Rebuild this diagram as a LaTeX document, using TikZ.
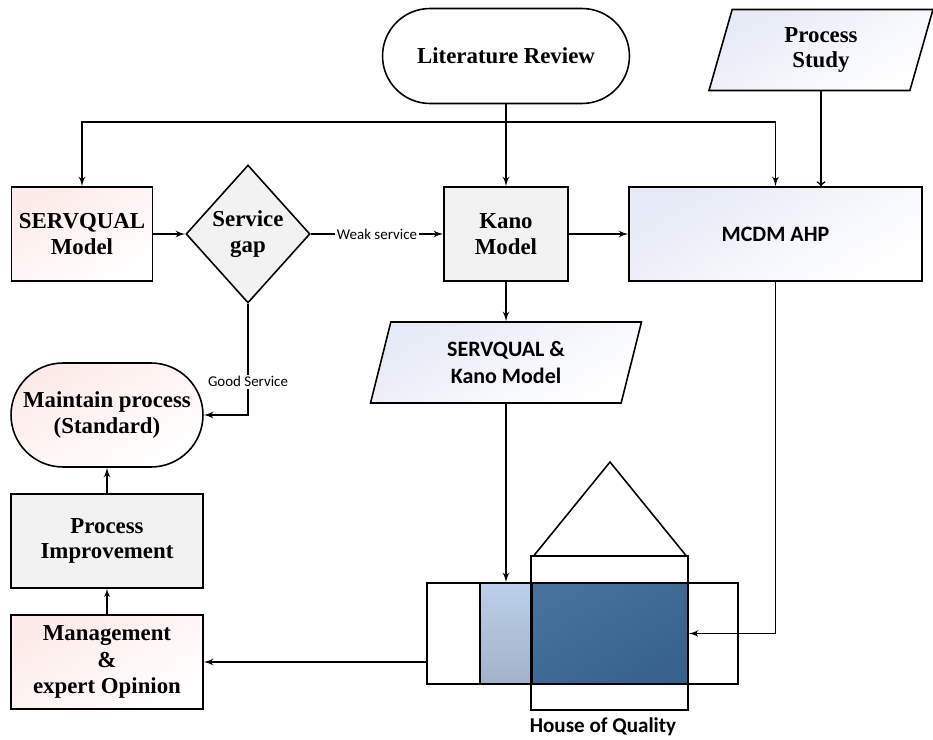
\documentclass[tikz,border=0pt]{standalone}
\usepackage{fontspec}
\setmainfont{Liberation Serif}
\newfontfamily\calibri{Carlito}
\usetikzlibrary{positioning,arrows,shapes.geometric,shapes.misc,calc}
\definecolor{pinkTop}{HTML}{FCEBE8}
\definecolor{blueTop}{HTML}{E6EAF6}
\definecolor{grayFill}{HTML}{F2F2F2}
\definecolor{hoqDarkA}{HTML}{44729D}
\definecolor{hoqDarkB}{HTML}{37628B}
\definecolor{hoqLightA}{HTML}{BCD0E9}
\definecolor{hoqLightB}{HTML}{A2B2CA}

\begin{document}
\begin{tikzpicture}[x=0.02cm,y=-0.02cm,>=latex',line width=0.9pt,
    every node/.style={font=\fontsize{13}{14.5}\selectfont\bfseries,align=center,inner sep=0pt},
    box/.style={draw,rectangle,minimum width=3.84cm,minimum height=1.88cm},
    pinkbox/.style={top color=pinkTop,bottom color=white,shading angle=30},
    graybox/.style={fill=grayFill},
    bluebox/.style={top color=blueTop,bottom color=white,shading angle=30},
    terminal/.style={draw,rounded rectangle},
    slanted/.style={draw,trapezium,trapezium left angle=63,trapezium right angle=117,trapezium stretches body},
    sanslabel/.style={font=\calibri\fontsize{8.5}{10}\selectfont,fill=white,inner sep=1pt},
    sansbold/.style={font=\calibri\fontsize{12.5}{15}\selectfont\bfseries},
    cell/.style={draw,rectangle,minimum height=2.02cm}]
    \useasboundingbox (0,0) rectangle (933,740);
    %
    \node[terminal,minimum width=4.94cm,minimum height=1.9cm] (Literature) at (506,56) {Literature Review};
    \node[slanted,bluebox,minimum width=4.48cm,minimum height=1.62cm] (Study) at (821,50) {Process\\Study};
    \node[box,pinkbox,minimum width=2.82cm] (Servqual) at (82,234) {SERVQUAL\\Model};
    \node[draw,diamond,graybox,aspect=0.9,minimum width=2.48cm,minimum height=2.76cm] (service_gap) at (248,234) {Service\\gap};
    \node[box,graybox,minimum width=2.48cm] (Kano) at (506,234) {Kano\\Model};
    \node[box,bluebox,sansbold,minimum width=5.86cm] (Mcdm) at (775.5,234) {MCDM AHP};
    \node[slanted,bluebox,sansbold,trapezium left angle=64,trapezium right angle=116,minimum width=5.42cm,minimum height=1.62cm] (Servqual_kano) at (506,362.5) {SERVQUAL \&\\Kano Model};
    \node[terminal,pinkbox,minimum width=3.84cm,minimum height=2.08cm] (Maintain) at (107,415) {Maintain process\\(Standard)};
    \node[box,graybox] (Improvement) at (107,541) {Process\\Improvement};
    \node[box,pinkbox,font=\fontsize{13}{15}\selectfont\bfseries] (Management) at (107,662) {Management\\\&\\expert Opinion};
    %
    % house of quality
    \node[cell,minimum width=1.06cm] (hoq_left) at (453.5,633.5) {};
    \node[cell,minimum width=1.04cm,top color=hoqLightA,bottom color=hoqLightB] (hoq_rows) at (506,633.5) {};
    \node[cell,minimum width=3.12cm,top color=hoqDarkA,bottom color=hoqDarkB,shading angle=30] (hoq_matrix) at (610,633.5) {};
    \node[cell,minimum width=1.0cm] (hoq_right) at (713,633.5) {};
    \node[draw,minimum width=3.14cm,minimum height=3.08cm] (hoq_body) at (609.5,633) {};
    \coordinate (roof_top) at (610,462);
    \draw ($(hoq_body.north west)+(4,0)$) -- (roof_top) -- ($(hoq_body.north east)+(-3,0)$);
    \node[sansbold,font=\calibri\fontsize{12}{14}\selectfont\bfseries] (hoq_label) at (603,727) {House of Quality};
    %
    \coordinate (split) at (506,122);
    \draw (Literature.south) -- (split);
    \draw[->] (split) -- (Kano.north);
    \draw[->] (split) -| (Servqual.north);
    \draw[->] (split) -| (Mcdm.north);
    \draw[-to] (Study.south) -- (Study.south |- Mcdm.north);
    \draw[->] (Servqual) -- (service_gap);
    \draw[->] (service_gap) -- node[sanslabel]{Weak service} (Kano);
    \draw[->] (Kano) -- (Mcdm);
    \draw[->] (Kano) -- (Servqual_kano);
    \draw[->] (service_gap.south) |- node[sanslabel,pos=0.35]{Good Service} (Maintain.east);
    \draw[->] (Improvement) -- (Maintain);
    \draw[->,line width=0.6pt] (Management) -- (Improvement);
    \draw[->] (Servqual_kano) -- (hoq_rows);
    \draw[->] (Mcdm.south) |- (hoq_matrix.east);
    \draw[->] (hoq_left.west |- Management.east) -- (Management.east);
\end{tikzpicture}
\end{document}
